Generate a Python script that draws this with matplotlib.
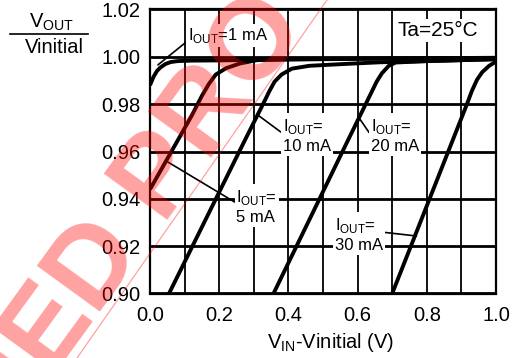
import matplotlib
matplotlib.use("Agg")
import matplotlib.pyplot as plt
from matplotlib.lines import Line2D
import numpy as np

plt.rcParams['font.family'] = ['Liberation Sans', 'DejaVu Sans']
plt.rcParams['mathtext.fontset'] = 'custom'
plt.rcParams['mathtext.rm'] = 'Liberation Sans'

# ---- data ----
v_1mA = [0.0, 0.01, 0.02, 0.03, 0.045, 0.06, 0.08, 0.12, 0.2, 0.3, 0.5, 0.7, 1.0]
r_1mA = [0.988, 0.9915, 0.994, 0.9955, 0.997, 0.9978, 0.9982, 0.9984, 0.9985, 0.9987, 0.999, 0.9993, 0.9996]

v_5mA = [0.0, 0.06, 0.12, 0.15, 0.17, 0.19, 0.22, 0.26, 0.31, 0.4, 0.6, 1.0]
r_5mA = [0.944, 0.9595, 0.975, 0.9835, 0.9885, 0.9925, 0.9952, 0.9972, 0.9986, 0.999, 0.9992, 0.9995]

v_10mA = [0.055, 0.275, 0.33, 0.345, 0.36, 0.38, 0.41, 0.46, 0.55, 0.665, 0.8, 1.0]
r_10mA = [0.90, 0.965, 0.981, 0.9855, 0.9895, 0.9925, 0.995, 0.9962, 0.9969, 0.9977, 0.9982, 0.999]

v_20mA = [0.357, 0.573, 0.62, 0.64, 0.655, 0.67, 0.69, 0.71, 0.8, 1.0]
r_20mA = [0.90, 0.965, 0.979, 0.985, 0.9895, 0.993, 0.9962, 0.9976, 0.9982, 0.999]

v_30mA = [0.70, 0.754, 0.808, 0.862, 0.916, 0.93, 0.945, 0.96, 0.98, 1.0]
r_30mA = [0.90, 0.92, 0.94, 0.96, 0.98, 0.9855, 0.9903, 0.9935, 0.9962, 0.998]

x_ticks = [0.0, 0.2, 0.4, 0.6, 0.8, 1.0]
x_tick_labels = ["0.0", "0.2", "0.4", "0.6", "0.8", "1.0"]
y_ticks = [0.90, 0.92, 0.94, 0.96, 0.98, 1.00, 1.02]
y_tick_labels = ["0.90", "0.92", "0.94", "0.96", "0.98", "1.00", "1.02"]

# label text, text anchor (data), curve point (data), relpos
labels = [
    ("I$_\\mathregular{OUT}$=1 mA", (0.11, 1.0089), (0.023, 0.9966), (0.0, 0.25)),
    ("I$_\\mathregular{OUT}$=\n5 mA", (0.25, 0.9366), (0.05, 0.9557), (0.0, 0.6)),
    ("I$_\\mathregular{OUT}$=\n10 mA", (0.384, 0.9668), (0.309, 0.9757), (0.0, 0.55)),
    ("I$_\\mathregular{OUT}$=\n20 mA", (0.639, 0.9668), (0.607, 0.9736), (0.0, 0.5)),
    ("I$_\\mathregular{OUT}$=\n30 mA", (0.535, 0.9251), (0.77, 0.9243), (1.0, 0.55)),
]

W, H = 514, 358
fig = plt.figure(figsize=(W / 100, H / 100), dpi=100)
ax = fig.add_axes([150 / W, 1 - 293.5 / H, 346 / W, 284 / H])

curve_lw = 2.8
for v, r in [(v_1mA, r_1mA), (v_5mA, r_5mA), (v_10mA, r_10mA), (v_20mA, r_20mA), (v_30mA, r_30mA)]:
    ax.plot(v, r, color='black', lw=curve_lw, solid_joinstyle='round', solid_capstyle='butt', zorder=3)

ax.set_xlim(0.0, 1.0)
ax.set_ylim(0.90, 1.02)
ax.set_xticks(x_ticks)
ax.set_xticklabels(x_tick_labels)
ax.set_xticks(np.arange(0.1, 1.0, 0.2), minor=True)
ax.set_yticks(y_ticks)
ax.set_yticklabels(y_tick_labels)
ax.tick_params(axis='both', which='both', length=0, labelsize=14.5)
ax.tick_params(axis='x', pad=9)
ax.tick_params(axis='y', pad=7)
ax.set_axisbelow(True)
ax.xaxis.grid(True, which='both', color='black', lw=1.3)
ax.yaxis.grid(True, which='major', color='black', lw=2.0)
for s in ax.spines.values():
    s.set_linewidth(1.6)
    s.set_color('black')

for txt, tpos, ppos, rel in labels:
    ax.annotate(txt, xy=ppos, xytext=tpos, ha='left', va='center',
                fontsize=12, linespacing=1.25, zorder=4,
                bbox=dict(facecolor='white', edgecolor='none', pad=1.5),
                arrowprops=dict(arrowstyle='-', lw=1.2, color='black', relpos=rel,
                                shrinkA=0, shrinkB=0))

ax.text(0.948, 1.011, "Ta=25°C", ha='right', va='center', fontsize=15, zorder=4,
        bbox=dict(facecolor='white', edgecolor='none', pad=1.5))

# y label as a fraction
fig.text(52 / W, 1 - 22 / H, "V$_\\mathregular{OUT}$", ha='center', va='center', fontsize=14.5)
fig.add_artist(Line2D([10 / W, 88 / W], [1 - 34 / H, 1 - 34 / H], lw=1.2, color='black'))
fig.text(54 / W, 1 - 47.5 / H, "Vinitial", ha='center', va='center', fontsize=14.5)

# x label
fig.text(331 / W, 1 - 343 / H, "V$_\\mathregular{IN}$-Vinitial (V)", ha='center', va='center', fontsize=14.5)

# watermark
fig.text(2.9 / W, 1 - 445 / H, "NED PRO", rotation=54, rotation_mode='anchor',
         ha='left', va='baseline', fontsize=82, fontweight='bold', color='red', alpha=0.37, zorder=10)
fig.add_artist(Line2D([77 / W, 327 / W], [0.0, 1.0], lw=0.9, color='red', alpha=0.37, zorder=10))

fig.savefig("out.png", dpi=100)
